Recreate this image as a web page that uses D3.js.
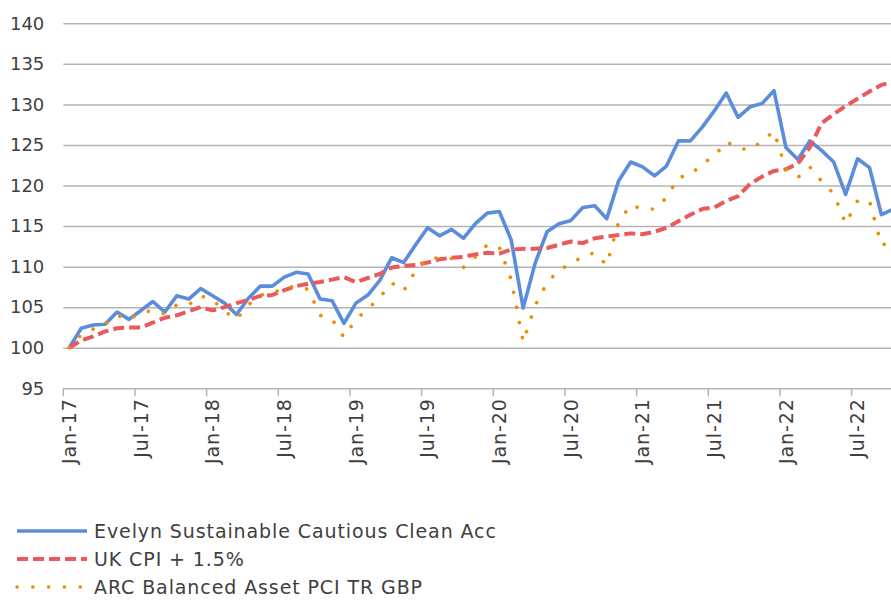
<!DOCTYPE html>
<html>
<head>
<meta charset="utf-8">
<script src="https://cdn.jsdelivr.net/npm/d3@7"></script>
<style>
  body { margin: 0; background: #fff; }
  svg { display: block; font-family: "DejaVu Sans", sans-serif; }
</style>
</head>
<body>
<svg id="vis" width="891" height="600"></svg>
<script>
// month categories Jan-17 .. Oct-22
const monthNames = ['Jan','Feb','Mar','Apr','May','Jun','Jul','Aug','Sep','Oct','Nov','Dec']
const years = ['17','18','19','20','21','22']
const months = []
years.forEach(y => monthNames.forEach(m => months.push(m + '-' + y)))
months.splice(70)

const seriesNames = ['Evelyn Sustainable Cautious Clean Acc', 'UK CPI + 1.5%', 'ARC Balanced Asset PCI TR GBP']

const evelyn = [100.0,102.4,102.8,102.9,104.4,103.5,104.6,105.7,104.4,106.4,106.0,107.3,
  106.4,105.5,104.1,106.1,107.6,107.6,108.7,109.3,109.1,106.0,105.8,103.0,
  105.5,106.5,108.3,111.1,110.5,112.7,114.8,113.8,114.6,113.5,115.3,116.6,
  116.8,113.3,104.9,110.4,114.3,115.3,115.7,117.3,117.5,115.9,120.6,122.9,
  122.3,121.2,122.4,125.5,125.5,127.2,129.2,131.4,128.4,129.7,130.1,131.7,
  124.7,123.2,125.5,124.3,122.9,118.9,123.3,122.2,116.4,117.1]

const ukCpi = [100.0,100.9,101.4,102.0,102.4,102.5,102.5,103.1,103.7,104.0,104.5,105.0,
  104.6,105.0,105.5,105.9,106.4,106.5,107.1,107.6,107.9,108.1,108.4,108.7,
  108.1,108.6,109.1,109.9,110.1,110.2,110.5,110.9,111.1,111.2,111.5,111.7,
  111.6,112.1,112.2,112.2,112.3,112.7,113.1,112.9,113.5,113.7,113.9,114.1,
  114.0,114.3,114.8,115.6,116.4,117.1,117.3,118.1,118.7,120.2,121.1,121.8,
  122.0,122.7,124.7,127.7,128.8,129.8,130.7,131.6,132.4,132.8]

const arcBalanced = [100.0,101.6,102.3,102.9,104.0,103.5,104.3,104.6,104.2,105.3,105.3,106.4,
  105.9,104.5,103.5,105.3,106.5,106.7,107.4,107.6,107.2,104.0,103.5,101.3,
  103.5,104.8,106.2,108.0,107.0,109.5,111.0,111.1,111.0,109.9,111.2,112.7,
  112.4,108.4,100.7,105.2,108.0,109.6,110.3,111.3,111.7,110.2,115.5,117.6,
  117.1,117.1,118.5,121.0,121.3,122.7,123.6,125.4,124.6,124.4,125.5,126.7,
  122.0,121.0,122.3,120.5,119.0,115.3,118.1,118.1,112.6,113.3]

const yTicks = [95,100,105,110,115,120,125,130,135,140]

const colors = ['#5b8ddb', '#e85a5c', '#f08c00']

const margin = {left: 63.3, top: 23.3}
const monthWidth = 11.944
const plotBottom = 388.3

const svg = d3.select('#vis')

const x = d3.scaleBand()
    .domain(months)
    .range([margin.left, margin.left + months.length * monthWidth])
    .paddingInner(0).paddingOuter(0)

const y = d3.scaleLinear()
    .domain([95, 140])
    .range([plotBottom, margin.top])

const plotRight = margin.left + months.length * monthWidth

//gridlines + y labels
const yAxis = d3.axisLeft(y)
    .tickValues(yTicks)
    .tickSize(-(plotRight - margin.left))
    .tickPadding(19)
    .tickFormat(d3.format('d'))

svg.append('g')
    .attr('class', 'y axis')
    .attr('transform', 'translate(' + margin.left + ',0)')
    .call(yAxis)
    .call(g => g.select('.domain').remove())
    .call(g => g.selectAll('line').attr('stroke', '#b4b4b4').attr('stroke-width', 1.5))
    .call(g => g.selectAll('text')
        .attr('fill', '#404040')
        .style('font-size', '18px')
        .style('font-family', '"DejaVu Sans", sans-serif'))

//bottom axis, ticks sit on the category edges
const xAxis = d3.axisBottom(x)
    .tickValues(months.filter((m, i) => i % 6 === 0))
    .tickSize(8)
    .tickSizeOuter(0)

svg.append('g')
    .attr('class', 'xAxis')
    .attr('transform', 'translate(0,' + plotBottom + ')')
    .call(xAxis)
    .call(g => g.select('.domain').remove())
    .call(g => g.selectAll('line')
        .attr('stroke', '#b4b4b4').attr('stroke-width', 1.5)
        .attr('transform', 'translate(' + (-x.bandwidth() / 2) + ',0)'))
    .call(g => g.selectAll('text')
        .attr('fill', '#404040')
        .style('font-size', '19px')
        .style('letter-spacing', '0.9px')
        .style('font-family', '"DejaVu Sans", sans-serif')
        .style('text-anchor', 'end')
        .attr('y', 0)
        .attr('x', -10)
        .attr('dy', '0.35em')
        .attr('transform', 'rotate(-90)'))

// lines
const line = d3.line()
    .x((d, i) => x(months[i]) + x.bandwidth() / 2)
    .y(d => y(d))

const styles = [
    {width: 3.6, dash: null, cap: 'butt'},
    {width: 4, dash: '11,5', cap: 'butt'},
    {width: 3.6, dash: '0.1,15.3', cap: 'round'}
]

const allSeries = [evelyn, ukCpi, arcBalanced]

allSeries.forEach((s, k) => {
    svg.append('path')
        .datum(s)
        .attr('class', 'series s' + k)
        .attr('fill', 'none')
        .attr('stroke', colors[k])
        .attr('stroke-width', styles[k].width)
        .attr('stroke-linejoin', 'round')
        .attr('stroke-linecap', styles[k].cap)
        .attr('stroke-dasharray', styles[k].dash)
        .attr('d', line)
})

// legend
const legend = svg.append('g').attr('class', 'legend')
const legendY = [531, 559, 587]

seriesNames.forEach((name, k) => {
    legend.append('line')
        .attr('x1', 17).attr('x2', 87)
        .attr('y1', legendY[k]).attr('y2', legendY[k])
        .attr('stroke', colors[k])
        .attr('stroke-width', styles[k].width)
        .attr('stroke-linecap', styles[k].cap)
        .attr('stroke-dasharray', k === 2 ? '0.1,15.7' : styles[k].dash)
    legend.append('text')
        .attr('x', 94)
        .attr('y', legendY[k])
        .attr('dy', '0.35em')
        .attr('fill', '#404040')
        .style('font-size', '19px')
        .style('letter-spacing', '0.9px')
        .text(name)
})
</script>
</body>
</html>
